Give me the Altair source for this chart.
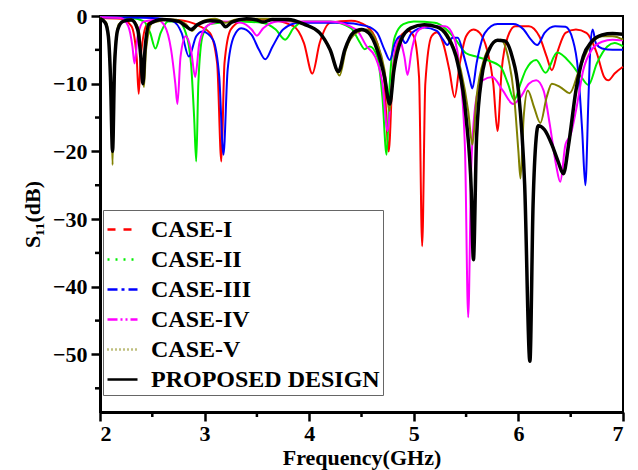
import altair as alt
import pandas as pd

series_names = ["CASE-I", "CASE-II", "CASE-III", "CASE-IV", "CASE-V", "PROPOSED DESIGN"]
series_colors = ["#FF0000", "#00EE00", "#0000FF", "#FF00FF", "#808000", "#000000"]
series_dash = [[8, 8], [2, 6], [10, 4, 3, 4], [10, 3, 2, 3, 2, 3], [1, 3], [1, 0]]

case1_f = [2.00, 2.20, 2.30, 2.35, 2.37, 2.39, 2.45, 2.55, 2.75, 2.95, 3.05, 3.12, 3.16, 3.19, 3.25, 3.35, 3.60, 3.85, 3.95, 4.03, 4.10, 4.20, 4.40, 4.55, 4.65, 4.72, 4.76, 4.80, 4.87, 4.95, 5.00, 5.05, 5.08, 5.11, 5.17, 5.22, 5.28, 5.34, 5.39, 5.44, 5.50, 5.57, 5.63, 5.70, 5.76, 5.80, 5.84, 5.90, 5.97, 6.10, 6.20, 6.27, 6.32, 6.38, 6.45, 6.55, 6.65, 6.75, 6.82, 6.86, 6.92, 7.00]
case1_s = [-0.3, -0.4, -1.5, -6, -11.5, -6, -1.2, -0.5, -0.6, -1.5, -2.5, -7, -21.5, -7, -2, -0.8, -0.5, -1.5, -4, -8.5, -4, -1, -0.7, -1.5, -4, -10, -20, -8, -3, -2.2, -3, -9, -34, -10, -3, -2.4, -4, -8, -12, -7, -3, -2, -2.5, -5, -10, -17, -8, -3, -1.5, -1.5, -3, -6, -8, -5, -2.5, -2, -2.5, -5.5, -9, -9.5, -8.5, -7.5]

case2_f = [2.00, 2.30, 2.42, 2.48, 2.53, 2.58, 2.65, 2.75, 2.82, 2.87, 2.90, 2.92, 2.94, 2.98, 3.05, 3.30, 3.55, 3.68, 3.77, 3.85, 3.95, 4.20, 4.40, 4.48, 4.53, 4.58, 4.65, 4.70, 4.74, 4.77, 4.82, 4.90, 5.00, 5.20, 5.30, 5.40, 5.50, 5.60, 5.70, 5.83, 5.90, 5.96, 6.02, 6.07, 6.17, 6.26, 6.37, 6.50, 6.60, 6.67, 6.75, 6.85, 6.92, 7.00]
case2_s = [-0.2, -0.3, -0.8, -2.5, -4.8, -2.5, -0.8, -0.8, -2.5, -7, -15, -21.5, -10, -3, -1.2, -0.8, -1.0, -2, -3.5, -1.8, -0.8, -0.8, -1.8, -3.8, -4.9, -4.5, -6, -12, -20.5, -10, -3, -1.2, -0.8, -1.0, -1.8, -3.5, -5.5, -6, -6.5, -7.5, -10, -12.4, -10, -8, -6.5, -8.4, -5.4, -7, -9, -10.2, -7, -4.5, -4, -4.5]

case3_f = [2.00, 2.50, 2.70, 2.78, 2.85, 2.92, 2.98, 3.08, 3.14, 3.18, 3.22, 3.28, 3.35, 3.45, 3.52, 3.58, 3.65, 3.75, 3.90, 4.30, 4.55, 4.65, 4.72, 4.77, 4.82, 4.87, 4.92, 4.98, 5.10, 5.22, 5.28, 5.32, 5.37, 5.42, 5.48, 5.53, 5.56, 5.60, 5.68, 5.80, 5.95, 6.05, 6.12, 6.18, 6.25, 6.35, 6.45, 6.52, 6.57, 6.61, 6.64, 6.67, 6.69, 6.71, 6.74, 6.80, 6.90, 7.00]
case3_s = [-0.2, -0.3, -0.8, -2.5, -6, -3, -2.3, -3.5, -9, -20.5, -8, -3, -1.8, -2.8, -5, -6.4, -4.5, -2, -1, -1, -1.5, -2.5, -5, -6.5, -4, -3, -4, -2.5, -1.7, -2.2, -3.5, -4.3, -3.2, -3.2, -6, -9, -10.7, -7, -2.5, -1.2, -1.2, -2, -3.5, -4.3, -2.5, -1.5, -1.6, -3.5, -8, -17, -25, -12, -4, -2, -4, -4.8, -5, -5]

case4_f = [2.00, 2.20, 2.27, 2.31, 2.33, 2.36, 2.42, 2.55, 2.62, 2.68, 2.72, 2.74, 2.77, 2.82, 2.87, 2.91, 2.95, 3.02, 3.15, 3.35, 3.45, 3.50, 3.56, 3.70, 4.20, 4.45, 4.55, 4.63, 4.70, 4.75, 4.78, 4.82, 4.86, 4.91, 4.94, 4.98, 5.05, 5.15, 5.30, 5.38, 5.44, 5.49, 5.52, 5.55, 5.60, 5.66, 5.75, 5.85, 5.95, 6.02, 6.10, 6.17, 6.24, 6.30, 6.36, 6.40, 6.45, 6.50, 6.55, 6.62, 6.70, 6.80, 6.90, 7.00]
case4_s = [-0.2, -0.3, -1.5, -4.5, -7, -3, -0.8, -0.6, -1.5, -5, -10, -13, -6, -3, -5, -9, -4, -1.5, -0.8, -1.0, -2, -2.9, -1.8, -0.8, -0.8, -2, -4.5, -6, -10, -17, -12, -5, -3.5, -6, -8.7, -5, -2, -1.5, -1.5, -3, -8, -20, -44.5, -22, -12, -9.5, -9, -11, -13, -12, -10, -9.5, -11, -16, -22, -24.5, -19, -17.5, -14, -8, -5, -3.8, -3.5, -3.6]

case5_f = [2.00, 2.06, 2.09, 2.11, 2.12, 2.14, 2.18, 2.30, 2.37, 2.40, 2.42, 2.44, 2.50, 2.70, 2.82, 2.88, 2.95, 3.10, 3.20, 3.30, 3.60, 3.90, 4.10, 4.20, 4.29, 4.35, 4.45, 4.55, 4.65, 4.72, 4.77, 4.80, 4.87, 4.95, 5.10, 5.25, 5.35, 5.45, 5.52, 5.56, 5.60, 5.68, 5.76, 5.83, 5.90, 5.96, 6.00, 6.02, 6.05, 6.09, 6.15, 6.21, 6.27, 6.32, 6.40, 6.49, 6.58, 6.68, 6.80, 6.90, 7.00]
case5_s = [-0.3, -1, -5, -14, -22, -6, -1.2, -0.5, -2, -7, -10.5, -5, -1, -0.5, -1.2, -2.2, -1, -0.4, -1, -0.5, -0.4, -1, -2.5, -5, -8.8, -5, -2.5, -2, -4, -8, -14, -8, -3.5, -2, -1.3, -1.7, -3.5, -8, -14, -19, -12, -6, -4, -3.5, -6, -12, -20, -24, -15, -11, -13.5, -15.8, -12, -10, -10.5, -11.4, -8, -4.5, -3, -3, -3.5]

prop_f = [2.00, 2.05, 2.08, 2.10, 2.12, 2.14, 2.17, 2.22, 2.30, 2.36, 2.39, 2.41, 2.43, 2.47, 2.60, 2.75, 2.82, 2.87, 2.93, 3.05, 3.15, 3.20, 3.26, 3.40, 3.50, 3.56, 3.65, 3.80, 3.95, 4.10, 4.20, 4.28, 4.34, 4.42, 4.50, 4.57, 4.65, 4.72, 4.77, 4.81, 4.88, 4.97, 5.10, 5.22, 5.32, 5.42, 5.50, 5.55, 5.57, 5.60, 5.65, 5.72, 5.80, 5.87, 5.94, 6.00, 6.06, 6.11, 6.14, 6.17, 6.19, 6.25, 6.32, 6.38, 6.43, 6.48, 6.55, 6.62, 6.70, 6.80, 6.90, 7.00]
prop_s = [-0.4, -1, -3, -9, -20, -7, -2, -0.8, -0.6, -2, -6, -10, -5, -1.2, -0.5, -0.8, -1.5, -2, -1.3, -0.7, -0.8, -1.6, -0.9, -0.4, -0.6, -0.9, -0.5, -0.5, -1.2, -2.5, -5, -8.2, -5, -2.5, -2, -2.5, -5, -9, -13, -8, -3.5, -1.8, -1.3, -1.6, -3, -7, -15, -26, -36, -18, -9, -5, -3.6, -3.7, -6, -11, -25, -51, -28, -18, -16.2, -16.8, -19, -21.5, -23.3, -19, -11, -6, -3.8, -2.8, -2.6, -2.7]

x_major = [2, 3, 4, 5, 6, 7]
x_minor = [2.5, 3.5, 4.5, 5.5, 6.5]
y_major = [0, -10, -20, -30, -40, -50]
y_minor = [-5, -15, -25, -35, -45, -55]
y_min = -58.5
W, H = 523, 396

all_f = [case1_f, case2_f, case3_f, case4_f, case5_f, prop_f]
all_s = [case1_s, case2_s, case3_s, case4_s, case5_s, prop_s]

rows = []
for name, fs, ss in zip(series_names, all_f, all_s):
    for i, (f, s) in enumerate(zip(fs, ss)):
        rows.append({"series": name, "f": f, "s": s, "i": i})
df = pd.DataFrame(rows)
legend_df = df[df["i"] == 0]

FONT = "Liberation Serif"

x_scale = alt.Scale(domain=[2, 7], nice=False, zero=False)
y_scale = alt.Scale(domain=[y_min, 0], nice=False, zero=False)

x_enc = alt.X("f:Q", scale=x_scale,
              axis=alt.Axis(values=x_major, title="Frequency(GHz)", format="d",
                            tickSize=9, labelPadding=2, titlePadding=3))
y_enc = alt.Y("s:Q", scale=y_scale,
              axis=alt.Axis(values=y_major, title="S₁₁(dB)", format="d",
                            tickSize=9, labelPadding=4, titlePadding=8))

legend_common = dict(title=None, orient="none", legendX=3, legendY=194,
                     symbolType="stroke", symbolSize=900, symbolStrokeWidth=2.5,
                     labelFont=FONT, labelFontWeight="bold", labelFontSize=24,
                     labelColor="black", rowPadding=1, labelOffset=12,
                     strokeColor="#666666", fillColor="white", padding=3,
                     labelLimit=400)

color_enc = alt.Color("series:N", scale=alt.Scale(domain=series_names, range=series_colors),
                      legend=alt.Legend(**legend_common))

lines = alt.Chart(df).mark_line(interpolate="monotone").encode(
    x=x_enc, y=y_enc, color=color_enc,
    strokeWidth=alt.condition(alt.datum.series == "PROPOSED DESIGN", alt.value(3.5), alt.value(2)),
    order="i:Q",
)

legend_layer = alt.Chart(legend_df).mark_line().encode(
    x="f:Q", y="s:Q", color=color_enc,
    strokeDash=alt.StrokeDash("series:N", scale=alt.Scale(domain=series_names, range=series_dash),
                              legend=alt.Legend(**legend_common)),
)

xminor = alt.Chart(pd.DataFrame({"v": x_minor})).mark_rule(color="black", strokeWidth=2.5).encode(
    x=alt.X("v:Q", scale=x_scale), y=alt.value(H), y2=alt.value(H + 5))
yminor = alt.Chart(pd.DataFrame({"v": y_minor})).mark_rule(color="black", strokeWidth=2.5).encode(
    y=alt.Y("v:Q", scale=y_scale), x=alt.value(-5), x2=alt.value(0))

chart = alt.layer(lines, legend_layer, xminor, yminor).properties(
    width=W, height=H,
    autosize=alt.AutoSizeParams(type="none"),
    padding={"left": 100, "top": 16, "right": 15, "bottom": 58},
    background="white",
).configure_axis(
    grid=False, domainColor="black", domainWidth=3, tickColor="black", tickWidth=2.5,
    labelFont=FONT, labelFontWeight="bold", labelFontSize=22, labelColor="black",
    titleFont=FONT, titleFontWeight="bold", titleFontSize=22, titleColor="black",
).configure_view(stroke="black", strokeWidth=2)

chart.save("out.html", embed_options={"renderer": "svg", "actions": False})
